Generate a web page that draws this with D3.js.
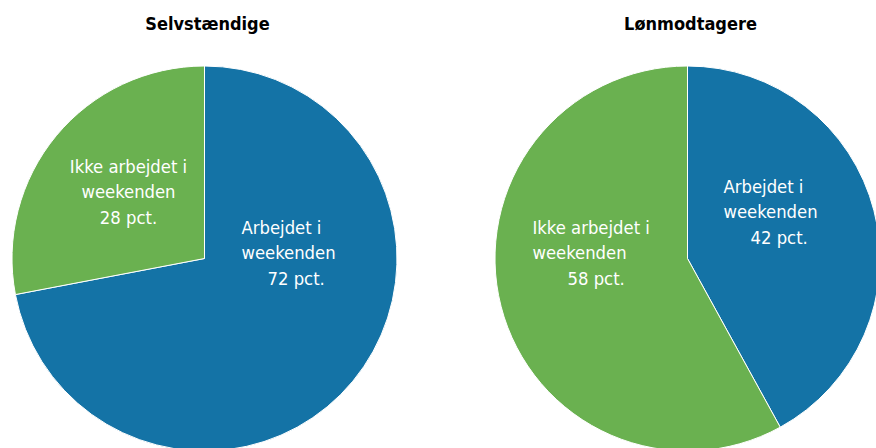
<!DOCTYPE html>
<html lang="da">
<head>
<meta charset="UTF-8">
<title>Arbejde i weekenden</title>
<script src="https://d3js.org/d3.v7.min.js"></script>
<style>
  body { margin: 0; background: #fff; }
  svg { display: block; }
  .title { font-family: 'Liberation Sans Narrow', 'DejaVu Sans Condensed', sans-serif; font-weight: bold; font-size: 18px; fill: #000; }
  .lbl { font-family: 'Liberation Sans Narrow', 'DejaVu Sans Condensed', sans-serif; font-size: 18.3px; fill: #fff; }
</style>
</head>
<body>
<svg id="chart" width="876" height="448"></svg>
<script>
// data
const groups = ['Selvstændige', 'Lønmodtagere'];
const categories = ['Arbejdet i weekenden', 'Ikke arbejdet i weekenden'];
const worked = [72, 42];
const notWorked = [28, 58];
const colors = ['#1473a6', '#6ab150'];

const svg = d3.select('#chart');
const radius = 192.5;
const centers = [[204.5, 258.5], [687.5, 258.5]];

const pie = d3.pie().sort(null).value(d => d.v);
const arc = d3.arc().innerRadius(0).outerRadius(radius);
const color = d3.scaleOrdinal().domain(categories).range(colors);

// label placement relative to pie center (first baseline, anchor, x of the pct line)
const labelPos = [
  [ {x: 37, y: -25, anchor: 'start', x3: 63}, {x: -76, y: -86, anchor: 'middle', x3: -76} ],
  [ {x: 36, y: -66, anchor: 'start', x3: 63}, {x: -155, y: -25, anchor: 'start', x3: -120} ]
];

groups.forEach((g, i) => {
  const data = [
    {k: categories[0], v: worked[i]},
    {k: categories[1], v: notWorked[i]}
  ];
  const [cx, cy] = centers[i];
  const gg = svg.append('g').attr('transform', `translate(${cx},${cy})`);

  gg.selectAll('path')
    .data(pie(data))
    .enter().append('path')
    .attr('d', arc)
    .attr('fill', d => color(d.data.k))
    .attr('stroke', '#fff')
    .attr('stroke-width', 1);

  svg.append('text')
    .attr('class', 'title')
    .attr('x', cx + 3)
    .attr('y', 30)
    .attr('text-anchor', 'middle')
    .text(g);

  data.forEach((d, j) => {
    const p = labelPos[i][j];
    const l1 = d.k.replace(' weekenden', '');
    const t = gg.append('text').attr('class', 'lbl').attr('text-anchor', p.anchor);
    t.append('tspan').attr('x', p.x).attr('y', p.y).text(l1);
    t.append('tspan').attr('x', p.x).attr('y', p.y + 25.5).text('weekenden');
    t.append('tspan').attr('x', p.x3).attr('y', p.y + 51).text(d.v + ' pct.');
  });
});
</script>
</body>
</html>
